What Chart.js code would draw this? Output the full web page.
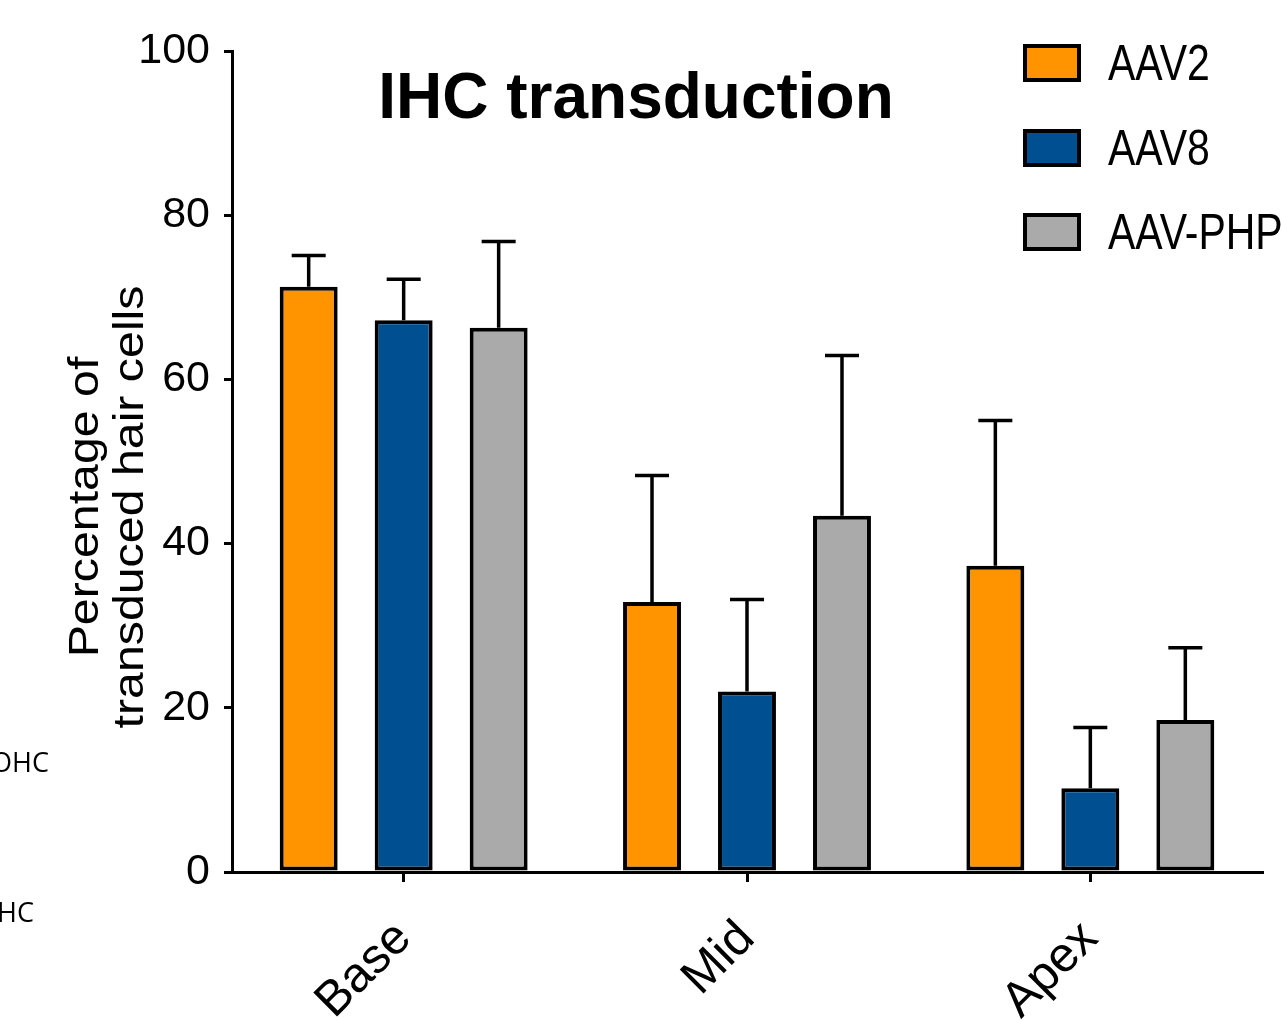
<!DOCTYPE html>
<html>
<head>
<meta charset="utf-8">
<script src="https://cdn.jsdelivr.net/npm/chart.js@4.4.1/dist/chart.umd.min.js"></script>
<style>
  html, body { margin: 0; padding: 0; background: #fff; }
  #wrap { position: relative; width: 1282px; height: 1020px; overflow: hidden; }
</style>
</head>
<body>
<div id="wrap"><canvas id="bars"></canvas></div>
<script>
// values (percent, mean and upper error)
const categories = ['Base', 'Mid', 'Apex'];
const seriesNames = ['AAV2', 'AAV8', 'AAV-PHP'];
const aav2Mean = [71.3, 32.9, 37.3];
const aav2Err = [3.8, 15.4, 17.7];
const aav8Mean = [67.2, 22.0, 10.2];
const aav8Err = [5.0, 11.2, 7.4];
const phpMean = [66.3, 43.4, 18.5];
const phpErr = [10.5, 19.5, 8.8];
const yTicks = [0, 20, 40, 60, 80, 100];
const colors = ['#ff9400', '#005091', '#aaaaaa'];

// narrow font if it exists, otherwise plain Liberation Sans a bit smaller
function hasFont(name) {
    var c = document.createElement('canvas').getContext('2d');
    c.font = '40px monospace';
    var a = c.measureText('AAV-PHP 100').width;
    c.font = '40px "' + name + '", monospace';
    var b = c.measureText('AAV-PHP 100').width;
    return a !== b;
}
var narrow = hasFont('Liberation Sans Narrow');
var tickFamily = narrow ? '"Liberation Sans Narrow"' : '"Liberation Sans"';
var tickSize = narrow ? 47 : 43;
var catSize = narrow ? 56 : 49;

const errorBars = {
    id: 'errorBars',
    afterDatasetsDraw(chart) {
        var ctx = chart.ctx;
        var y = chart.scales.y;
        ctx.save();
        ctx.strokeStyle = '#000';
        ctx.lineWidth = 3.5;
        chart.data.datasets.forEach(function (ds, i) {
            chart.getDatasetMeta(i).data.forEach(function (bar, j) {
                var top = y.getPixelForValue(ds.data[j] + ds.errors[j]);
                ctx.beginPath();
                ctx.moveTo(bar.x, bar.y);
                ctx.lineTo(bar.x, top);
                ctx.moveTo(bar.x - 17, top);
                ctx.lineTo(bar.x + 17, top);
                ctx.stroke();
            });
        });
        ctx.restore();
    }
};

const decor = {
    id: 'decor',
    afterDraw(chart) {
        var ctx = chart.ctx;
        ctx.save();
        ctx.fillStyle = '#000';

        // title
        ctx.font = 'bold 64px "Liberation Sans", Arial, sans-serif';
        ctx.textAlign = 'center';
        ctx.textBaseline = 'alphabetic';
        ctx.fillText('IHC transduction', 636, 118);

        // y axis title, two lines, stretched along the text
        ctx.font = '42px "Liberation Sans", Arial, sans-serif';
        ctx.save();
        ctx.translate(98, 507);
        ctx.rotate(-Math.PI / 2);
        ctx.scale(1.15, 1);
        ctx.fillText('Percentage of', 0, 0);
        ctx.restore();
        ctx.save();
        ctx.translate(143, 507);
        ctx.rotate(-Math.PI / 2);
        ctx.scale(1.15, 1);
        ctx.fillText('transduced hair cells', 0, 0);
        ctx.restore();

        // legend
        var rows = [63, 148, 232];
        chart.data.datasets.forEach(function (ds, i) {
            var cy = rows[i];
            ctx.fillStyle = ds.backgroundColor;
            ctx.fillRect(1023, cy - 19, 58, 38);
            ctx.strokeStyle = '#000';
            ctx.lineWidth = 4;
            ctx.strokeRect(1025, cy - 17, 54, 34);
            ctx.fillStyle = '#000';
            ctx.save();
            ctx.translate(1108, cy + 17);
            ctx.scale(1, 1.2);
            ctx.font = '41px "Liberation Sans", Arial, sans-serif';
            ctx.textAlign = 'left';
            ctx.fillText(ds.label, 0, 0);
            ctx.restore();
        });

        // cut-off text from the neighbouring panel
        ctx.font = '27px "Open Sans", sans-serif';
        ctx.textAlign = 'left';
        ctx.fillText('OHC', -9, 772);
        ctx.fillText('HC', -3, 922);
        ctx.restore();
    }
};

var ctx = document.getElementById('bars').getContext('2d');
var chart = new Chart(ctx, {
    type: 'bar',
    data: {
        labels: categories,
        datasets: [
            { label: seriesNames[0], data: aav2Mean, errors: aav2Err, backgroundColor: colors[0] },
            { label: seriesNames[1], data: aav8Mean, errors: aav8Err, backgroundColor: colors[1] },
            { label: seriesNames[2], data: phpMean, errors: phpErr, backgroundColor: colors[2] }
        ]
    },
    options: {
        responsive: true,
        maintainAspectRatio: false,
        animation: false,
        layout: { padding: { top: 51, right: 20, left: 0, bottom: 0 } },
        datasets: {
            bar: {
                borderColor: '#000',
                borderWidth: 4,
                borderSkipped: false,
                categoryPercentage: 0.83,
                barPercentage: 0.61
            }
        },
        plugins: {
            legend: { display: false },
            title: { display: false },
            tooltip: { enabled: false }
        },
        scales: {
            x: {
                afterFit: function (scale) { scale.height = 148; },
                border: { display: true, color: '#000', width: 3 },
                grid: { display: true, offset: false, drawOnChartArea: false, color: '#000', lineWidth: 3, tickLength: 10 },
                ticks: {
                    color: '#000',
                    font: { family: tickFamily, size: catSize },
                    minRotation: 45,
                    maxRotation: 45,
                    padding: 28
                }
            },
            y: {
                min: 0,
                max: 100,
                afterFit: function (scale) { scale.width = 232; },
                afterBuildTicks: function (scale) {
                    scale.ticks = yTicks.map(function (v) { return { value: v }; });
                },
                border: { display: true, color: '#000', width: 3 },
                grid: { display: true, drawOnChartArea: false, color: '#000', lineWidth: 3, tickLength: 8 },
                ticks: {
                    color: '#000',
                    font: { family: tickFamily, size: tickSize },
                    padding: 14
                }
            }
        }
    },
    plugins: [errorBars, decor]
});
</script>
</body>
</html>
